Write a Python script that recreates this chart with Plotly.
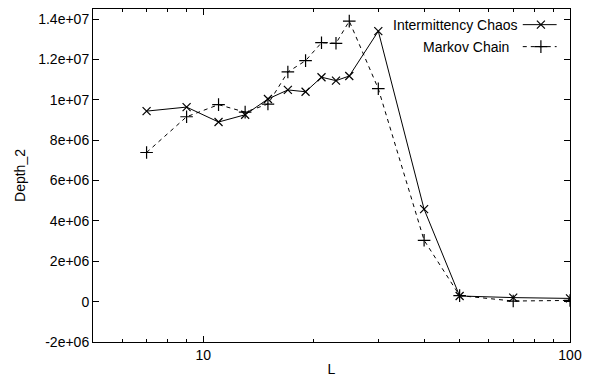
import plotly.graph_objects as go

L = [7, 9, 11, 13, 15, 17, 19, 21, 23, 25, 30, 40, 50, 70, 100]
chaos = [9.44e6, 9.64e6, 8.90e6, 9.26e6, 1.004e7, 1.049e7, 1.040e7, 1.112e7, 1.095e7, 1.118e7,
         1.340e7, 4.58e6, 2.8e5, 2.0e5, 1.6e5]
markov = [7.39e6, 9.16e6, 9.76e6, 9.39e6, 9.79e6, 1.138e7, 1.194e7, 1.283e7, 1.280e7, 1.390e7,
          1.055e7, 3.04e6, 3.0e5, 3e4, 6e4]
names = ["Intermittency Chaos", "Markov Chain"]
ytick_vals = [-2e6, 0, 2e6, 4e6, 6e6, 8e6, 1e7, 1.2e7, 1.4e7]
ytick_text = ["-2e+06", "0", "2e+06", "4e+06", "6e+06", "8e+06", "1e+07", "1.2e+07", "1.4e+07"]
xtick_vals = [10, 100]
xtick_text = ["10", "100"]
xminor = [6, 7, 8, 9, 20, 30, 40, 50, 60, 70, 80, 90]

FONT = "Liberation Sans, Arial, sans-serif"
FS = 14
fig = go.Figure()
fig.add_trace(go.Scatter(x=L, y=chaos, mode="lines+markers", name=names[0],
                         line=dict(color="black", width=1),
                         marker=dict(symbol="x-thin", size=8, line=dict(color="black", width=1.2)),
                         showlegend=False))
fig.add_trace(go.Scatter(x=L, y=markov, mode="lines+markers", name=names[1],
                         line=dict(color="black", width=1, dash="4px,4px"),
                         marker=dict(symbol="cross-thin", size=9, line=dict(color="black", width=1.2)),
                         showlegend=False))

# custom legend (gnuplot style: text, then sample to the right)
leg_y = [0.953, 0.887]
leg_x = [0.891, 0.872]
for i, (nm, dash, sym, sz) in enumerate([(names[0], "solid", "x-thin", 8), (names[1], "4px,4px", "cross-thin", 9)]):
    fig.add_annotation(xref="paper", yref="paper", x=leg_x[i], y=leg_y[i], text=nm, showarrow=False,
                       xanchor="right", yanchor="middle", xshift=2,
                       font=dict(family=FONT, size=FS, color="black"))
    fig.add_trace(go.Scatter(x=[0.901, 0.939, 0.972], y=[leg_y[i]] * 3, xaxis="x2", yaxis="y2",
                             mode="lines", line=dict(color="black", width=1, dash=dash),
                             showlegend=False, hoverinfo="skip"))
    fig.add_trace(go.Scatter(x=[0.939], y=[leg_y[i]], xaxis="x2", yaxis="y2", mode="markers",
                             marker=dict(symbol=sym, size=sz, line=dict(color="black", width=1.2)),
                             showlegend=False, hoverinfo="skip"))

fig.update_layout(
    width=589, height=377,
    margin=dict(l=93, r=19, t=9, b=35),
    paper_bgcolor="white", plot_bgcolor="white",
    font=dict(family=FONT, size=FS, color="black"),
    xaxis=dict(type="log", range=[0.69897, 2], tickvals=xtick_vals, ticktext=xtick_text,
               ticks="inside", ticklen=6, tickcolor="black", showgrid=False, zeroline=False,
               showline=True, linecolor="black", linewidth=1, mirror="allticks", automargin=False,
               minor=dict(tickvals=xminor, ticks="inside", ticklen=3, tickcolor="black", showgrid=False),
               title=dict(text="L", standoff=2, font=dict(size=FS)), tickfont=dict(size=FS)),
    yaxis=dict(range=[-2e6, 1.45e7], tickvals=ytick_vals, ticktext=ytick_text,
               ticks="inside", ticklen=6, tickcolor="black", showgrid=False, zeroline=False,
               showline=True, linecolor="black", linewidth=1, mirror="allticks", automargin=False,
               title=dict(text="Depth_2", standoff=9, font=dict(size=FS)), tickfont=dict(size=FS)),
    xaxis2=dict(overlaying="x", range=[0, 1], visible=False, fixedrange=True),
    yaxis2=dict(overlaying="y", range=[0, 1], visible=False, fixedrange=True),
)
fig.write_html("out.html")
